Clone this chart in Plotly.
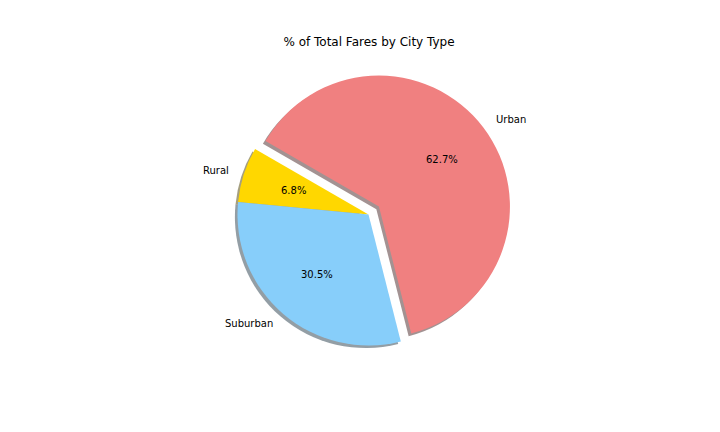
import math
import plotly.graph_objects as go

# data
city_types = ["Rural", "Suburban", "Urban"]
fare_pct = [6.8, 30.5, 62.7]
slice_colors = ["#FFD700", "#87CEFA", "#F08080"]
explode = [0.0, 0.0, 0.1]

W, H = 720, 432
OFF = 8                    # page body margin the figure is drawn at
CX, CY = 368.5 - OFF, 214.5 - OFF   # pie centre in figure px (from top-left)
R = 131                    # pie radius in px
START = 150                # start angle, degrees ccw from 3 o'clock
SHADOW = 2.6               # shadow offset in px

total = sum(fare_pct)
# plotly (ccw) puts the first slice clockwise of `rotation`
rotation = 90 - (START + 360 * fare_pct[0] / total)

# plotly shrinks the radius by (1 + max pull)
half = R * (1 + max(explode))


def domain(dx=0, dy=0):
    cx, cy = CX + dx, H - (CY + dy)
    return dict(x=[(cx - half) / W, (cx + half) / W],
                y=[(cy - half) / H, (cy + half) / H])


def shade(hexcol):
    r, g, b = (int(hexcol[i:i + 2], 16) for i in (1, 3, 5))
    return f"rgba({int(r * 0.3)},{int(g * 0.3)},{int(b * 0.3)},0.5)"


fig = go.Figure()

# shadow
fig.add_trace(go.Pie(
    labels=city_types, values=fare_pct, sort=False,
    direction="counterclockwise", rotation=rotation,
    pull=explode, textinfo="none", hoverinfo="skip",
    marker=dict(colors=[shade(c) for c in slice_colors], line=dict(width=0)),
    domain=domain(-SHADOW, SHADOW), showlegend=False,
))

fig.add_trace(go.Pie(
    labels=city_types, values=fare_pct, sort=False,
    direction="counterclockwise", rotation=rotation,
    pull=explode, textinfo="none",
    marker=dict(colors=slice_colors, line=dict(width=0)),
    domain=domain(), showlegend=False,
))

# labels and percentages placed like matplotlib (1.1r and 0.6r)
theta = START
for name, val, ex in zip(city_types, fare_pct, explode):
    span = 360 * val / total
    mid = math.radians(theta + span / 2)
    theta += span
    cx = CX + ex * R * math.cos(mid)
    cy = CY - ex * R * math.sin(mid)
    lx = cx + 1.1 * R * math.cos(mid)
    ly = cy - 1.1 * R * math.sin(mid)
    px = cx + 0.6 * R * math.cos(mid)
    py = cy - 0.6 * R * math.sin(mid)
    fig.add_annotation(
        x=lx / W, y=1 - ly / H, xref="paper", yref="paper",
        text=name, showarrow=False,
        xanchor="right" if math.cos(mid) < 0 else "left", yanchor="middle",
        font=dict(size=10, color="black"),
    )
    fig.add_annotation(
        x=px / W, y=1 - py / H, xref="paper", yref="paper",
        text=f"{val:.1f}%", showarrow=False,
        xanchor="center", yanchor="middle",
        font=dict(size=10, color="black"),
    )

fig.update_layout(
    width=W, height=H,
    margin=dict(l=0, r=0, t=0, b=0),
    paper_bgcolor="white", plot_bgcolor="white",
    font=dict(family="DejaVu Sans", color="black"),
    title=dict(text="% of Total Fares by City Type", x=(369 - OFF) / W,
               xanchor="center", y=1 - (42 - OFF) / H, yanchor="middle",
               font=dict(size=12, color="black")),
)

fig.write_html("out.html")
